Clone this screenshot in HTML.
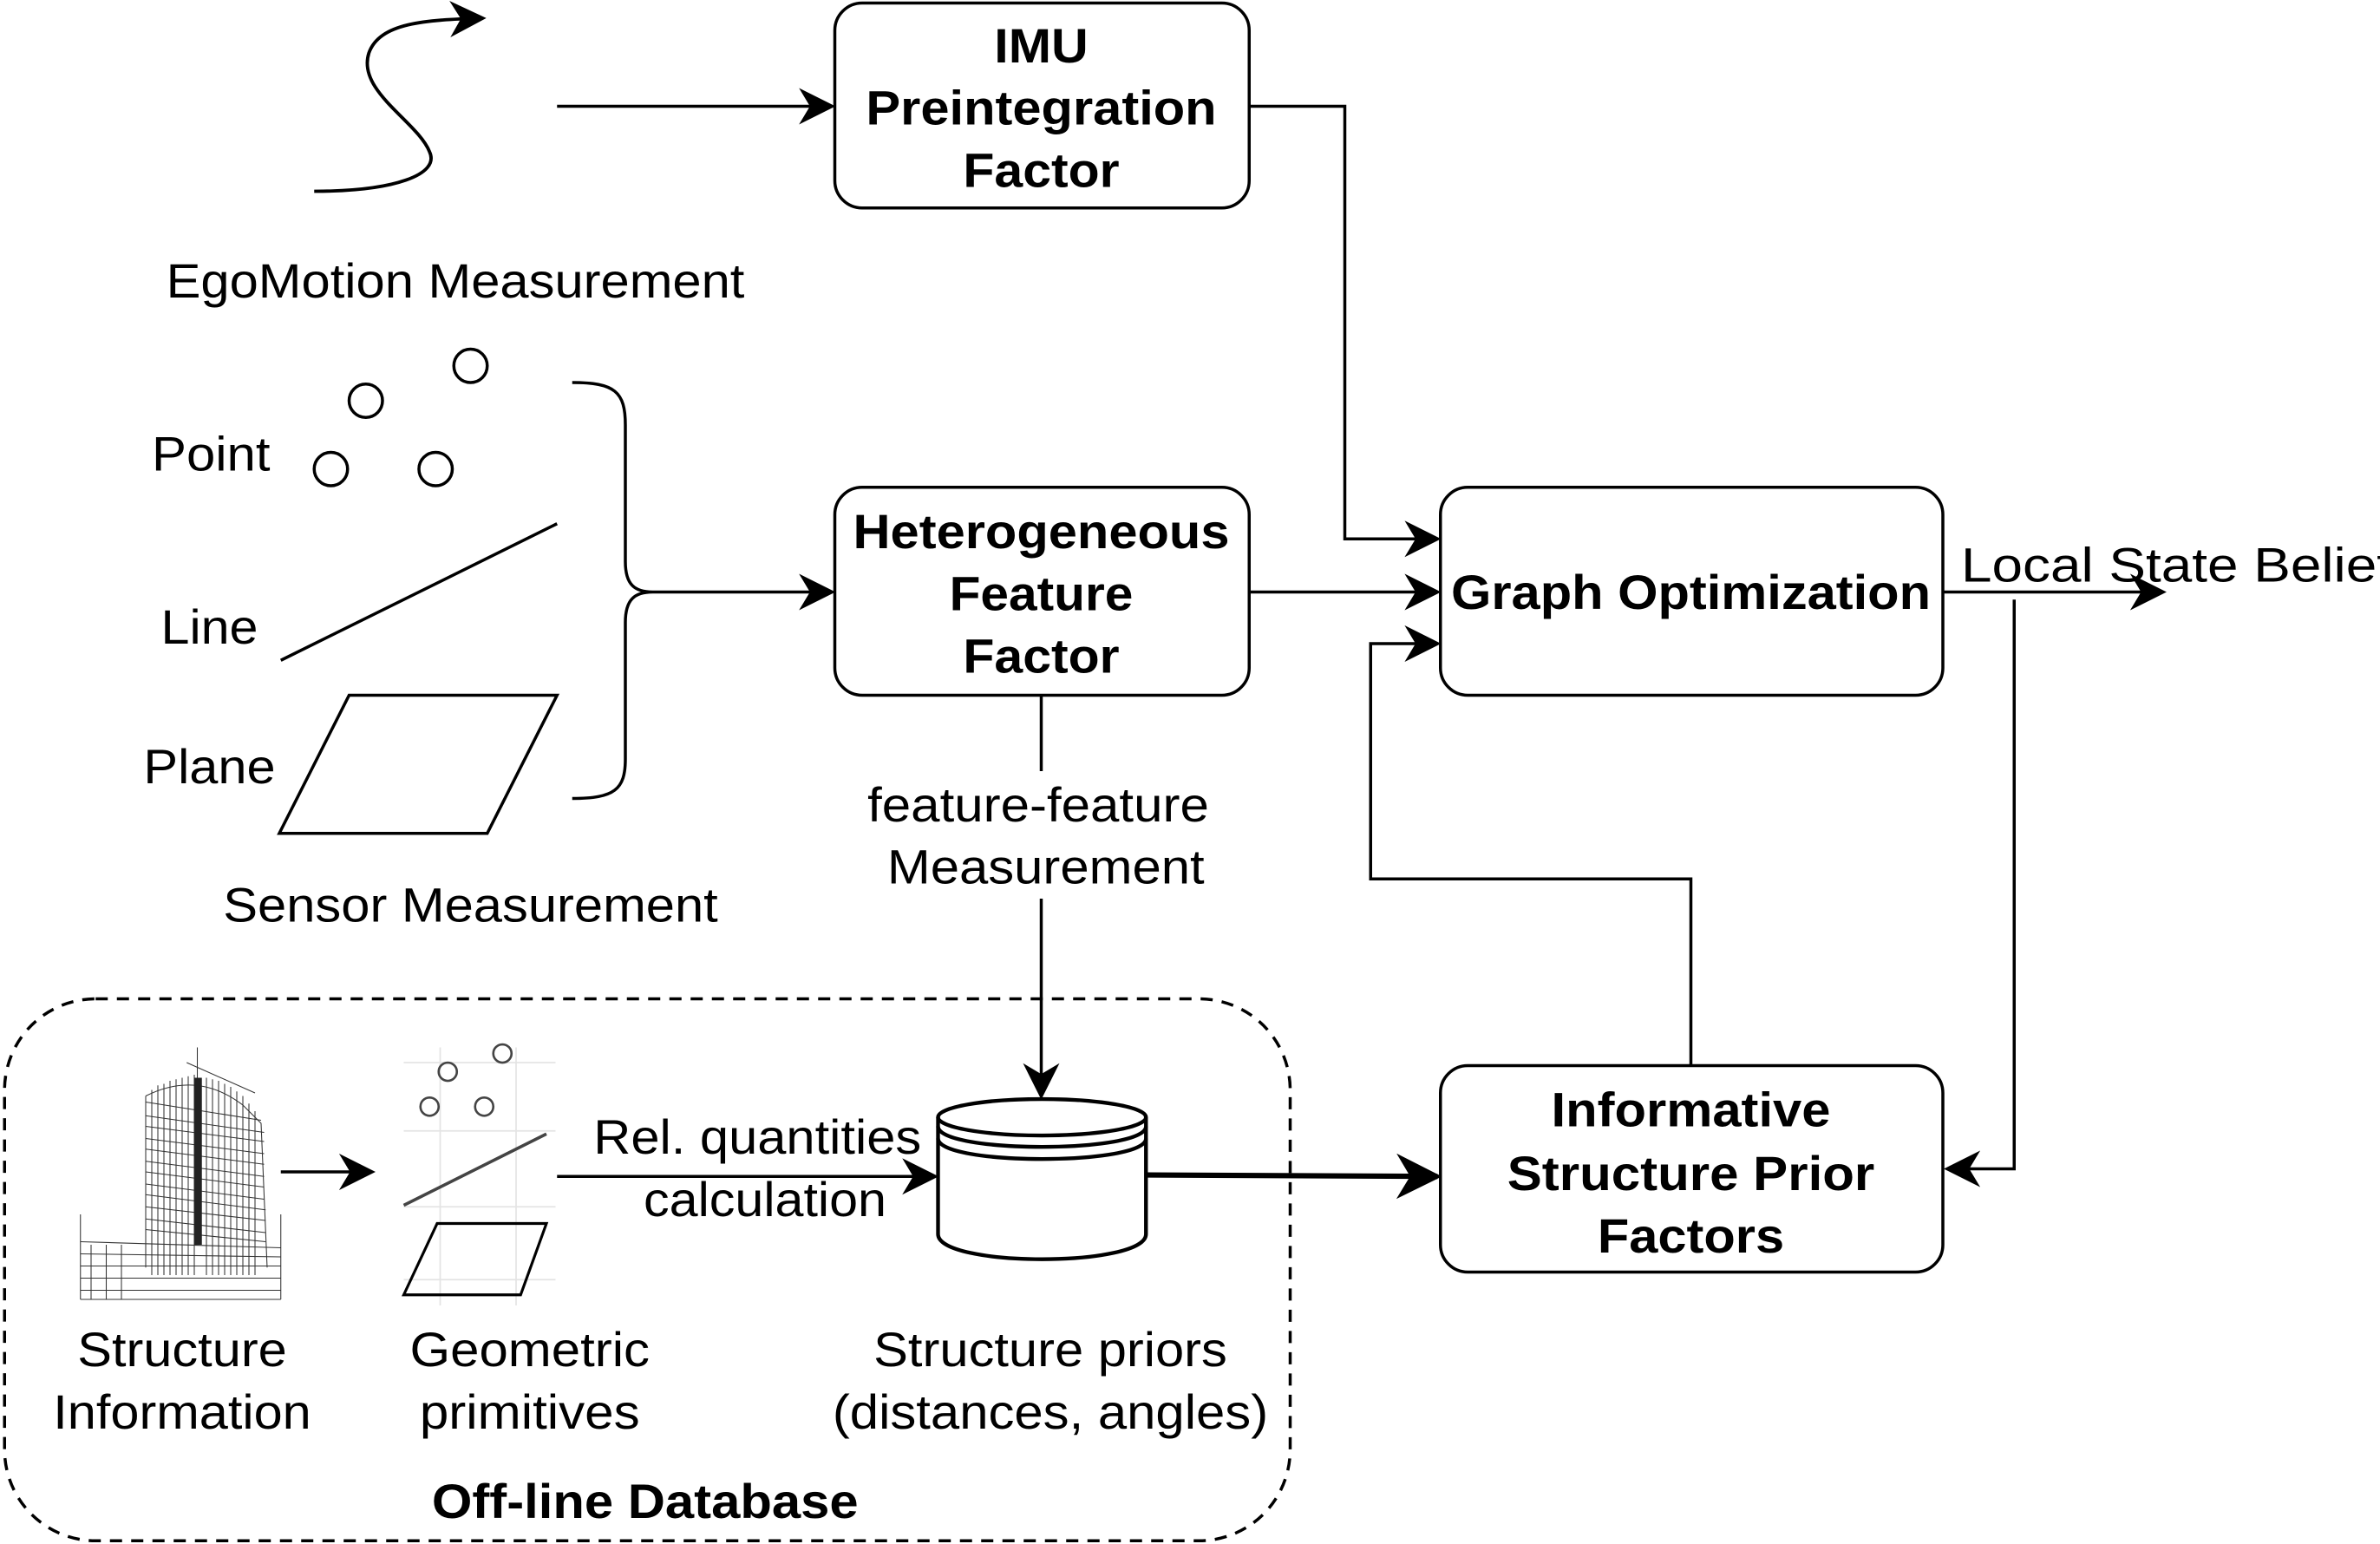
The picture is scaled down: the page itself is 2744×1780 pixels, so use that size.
<!DOCTYPE html>
<html><head><meta charset="utf-8"><style>html,body{margin:0;padding:0;background:#fff}svg{display:block}</style></head>
<body>
<svg width="2744" height="1780" viewBox="0 0 1568 1017.14" xmlns="http://www.w3.org/2000/svg" font-family="Liberation Sans, sans-serif">
<defs>
<marker id="a" viewBox="0 0 10 10" refX="9" refY="5" markerWidth="9" markerHeight="9" markerUnits="userSpaceOnUse" orient="auto"><path d="M0,0 L10,5 L0,10 L3,5 z" fill="#000"/></marker>
<marker id="b" viewBox="0 0 10 10" refX="9" refY="5" markerWidth="24" markerHeight="24" markerUnits="userSpaceOnUse" orient="auto"><path d="M0,0 L10,5 L0,10 L3,5 z" fill="#000"/></marker>
<marker id="c" viewBox="0 0 10 10" refX="9" refY="5" markerWidth="30" markerHeight="30" markerUnits="userSpaceOnUse" orient="auto"><path d="M0,0 L10,5 L0,10 L3,5 z" fill="#000"/></marker>
</defs>
<g fill="none" stroke="#000" stroke-width="2">
<rect x="550" y="2" width="273" height="135" rx="18"/>
<rect x="550" y="321" width="273" height="137" rx="18"/>
<rect x="949" y="321" width="331" height="137" rx="18"/>
<rect x="949" y="702" width="331" height="136" rx="18"/>
<rect x="3" y="658" width="847" height="357" rx="60" stroke-dasharray="8,6"/>
<path d="M207,126 C260,126 290,115 283,100 C275,80 235,60 243,35 C250,15 280,13 318,12" marker-end="url(#b)" stroke-width="2.2"/>
<line x1="367" y1="70" x2="548" y2="70" marker-end="url(#b)"/>
<circle cx="310" cy="241" r="11"/><circle cx="241" cy="264" r="11"/><circle cx="218" cy="309" r="11"/><circle cx="287" cy="309" r="11"/>
<line x1="185" y1="435" x2="367" y2="345"/>
<polygon points="230,458 367,458 321,549 184,549"/>
<path d="M377,252 C405,252 412,258 412,280 L412,370 C412,385 418,390 430,390 C418,390 412,395 412,410 L412,500 C412,520 405,526 377,526"/>
<line x1="430" y1="390" x2="548" y2="390" marker-end="url(#b)"/>
<polyline points="823,70 886,70 886,355 947,355" marker-end="url(#b)"/>
<line x1="823" y1="390" x2="947" y2="390" marker-end="url(#b)"/>
<line x1="1280" y1="390" x2="1425" y2="390" marker-end="url(#b)"/>
<polyline points="1327,395 1327,770 1283,770" marker-end="url(#b)"/>
<polyline points="1114,702 1114,579 903,579 903,424 947,424" marker-end="url(#b)"/>
<line x1="686" y1="458" x2="686" y2="508"/>
<line x1="686" y1="592" x2="686" y2="722" marker-end="url(#b)"/>
<line x1="756" y1="774" x2="947" y2="775" stroke-width="3.5" marker-end="url(#c)"/>
<line x1="367" y1="775" x2="616" y2="775" marker-end="url(#b)"/>
<line x1="185" y1="772" x2="245" y2="772" marker-end="url(#b)"/>
<path d="M618,736 L618,813 C618,835 755,835 755,813 L755,736" stroke-width="2.5"/>
<ellipse cx="686.5" cy="736" rx="68.5" ry="12" stroke-width="2.5"/>
<path d="M618,742 C618,760 755,760 755,742 M618,750 C618,768 755,768 755,750" stroke-width="2.5"/>
<g stroke="#e4e4e4" stroke-width="1">
<line x1="266" y1="700" x2="366" y2="700"/><line x1="266" y1="745" x2="366" y2="745"/><line x1="266" y1="795" x2="366" y2="795"/><line x1="266" y1="843" x2="366" y2="843"/>
<line x1="290" y1="690" x2="290" y2="860"/><line x1="340" y1="690" x2="340" y2="860"/>
</g>
<g stroke="#444" stroke-width="1.5">
<circle cx="331" cy="694" r="6"/><circle cx="295" cy="706" r="6"/><circle cx="283" cy="729" r="6"/><circle cx="319" cy="729" r="6"/>
<line x1="266" y1="794" x2="360" y2="747" stroke-width="2"/>
</g>
<polygon points="288,806 360,806 343,853 266,853" stroke-width="1.8"/>
<g stroke="#333" stroke-width="0.6">
<path d="M96,722 L96,835 M53,850 L185,850 M53,856 L185,856 M53,800 L53,856 M185,800 L185,856"/>
<path d="M96,722 Q130,705 160,728 L172,740 L176,835"/>
<path d="M100,718 L100,840 M104,715 L104,840 M108,714 L108,840 M112,712 L112,840 M116,711 L116,840 M120,710 L120,840 M124,709 L124,840 M128,708 L128,840 M136,710 L136,840 M140,711 L140,840 M144,712 L144,840 M148,714 L148,840 M152,716 L152,840 M156,719 L156,840 M160,722 L160,840 M164,727 L164,840 M168,732 L168,840 M60,820 L60,856 M70,820 L70,856 M80,820 L80,856"/>
<path d="M96,726 L172,738 M96,735 L174,746 M96,742 L174,752 M96,750 L174,760 M96,757 L174,767 M96,765 L174,775 M96,772 L174,782 M96,780 L174,790 M96,787 L175,797 M96,795 L175,804 M96,803 L175,812 M96,810 L175,818 M53,818 L185,822 M53,826 L185,828 M53,834 L185,834 M53,842 L185,842"/>
<path d="M130,690 L130,720 M123,700 L168,720"/>
</g>
<rect x="128" y="710" width="5" height="110" fill="#222" stroke="none"/>
</g>
<g font-size="32" fill="#000" text-anchor="middle" lengthAdjust="spacingAndGlyphs">
<g font-weight="bold">
<text x="686" y="41" textLength="62" lengthAdjust="spacingAndGlyphs">IMU</text>
<text x="686" y="82" textLength="231" lengthAdjust="spacingAndGlyphs">Preintegration</text>
<text x="686" y="123" textLength="103" lengthAdjust="spacingAndGlyphs">Factor</text>
<text x="686" y="361" textLength="248" lengthAdjust="spacingAndGlyphs">Heterogeneous</text>
<text x="686" y="402" textLength="121" lengthAdjust="spacingAndGlyphs">Feature</text>
<text x="686" y="443" textLength="103" lengthAdjust="spacingAndGlyphs">Factor</text>
<text x="1114" y="401" textLength="316" lengthAdjust="spacingAndGlyphs">Graph Optimization</text>
<text x="1114" y="742" textLength="184" lengthAdjust="spacingAndGlyphs">Informative</text>
<text x="1114" y="784" textLength="242" lengthAdjust="spacingAndGlyphs">Structure Prior</text>
<text x="1114" y="825" textLength="123" lengthAdjust="spacingAndGlyphs">Factors</text>
<text x="425" y="1000" textLength="281" lengthAdjust="spacingAndGlyphs">Off-line Database</text>
</g>
<text x="300" y="196" textLength="381" lengthAdjust="spacingAndGlyphs">EgoMotion Measurement</text>
<text x="139" y="310" textLength="78" lengthAdjust="spacingAndGlyphs">Point</text>
<text x="138" y="424" textLength="64" lengthAdjust="spacingAndGlyphs">Line</text>
<text x="138" y="516" textLength="87" lengthAdjust="spacingAndGlyphs">Plane</text>
<text x="310" y="607" textLength="326" lengthAdjust="spacingAndGlyphs">Sensor Measurement</text>
<text x="684" y="541" textLength="225" lengthAdjust="spacingAndGlyphs">feature-feature</text>
<text x="689" y="582" textLength="209" lengthAdjust="spacingAndGlyphs">Measurement</text>
<text x="499" y="760" textLength="216" lengthAdjust="spacingAndGlyphs">Rel. quantities</text>
<text x="504" y="801" textLength="160" lengthAdjust="spacingAndGlyphs">calculation</text>
<text x="120" y="900" textLength="138" lengthAdjust="spacingAndGlyphs">Structure</text>
<text x="120" y="941" textLength="170" lengthAdjust="spacingAndGlyphs">Information</text>
<text x="349" y="900" textLength="158" lengthAdjust="spacingAndGlyphs">Geometric</text>
<text x="349" y="941" textLength="145" lengthAdjust="spacingAndGlyphs">primitives</text>
<text x="692" y="900" textLength="233" lengthAdjust="spacingAndGlyphs">Structure priors</text>
<text x="692" y="941" textLength="287" lengthAdjust="spacingAndGlyphs">(distances, angles)</text>
<text x="1292" y="383" text-anchor="start" textLength="284" lengthAdjust="spacingAndGlyphs">Local  State Belief</text>
</g>
</svg>
</body></html>
